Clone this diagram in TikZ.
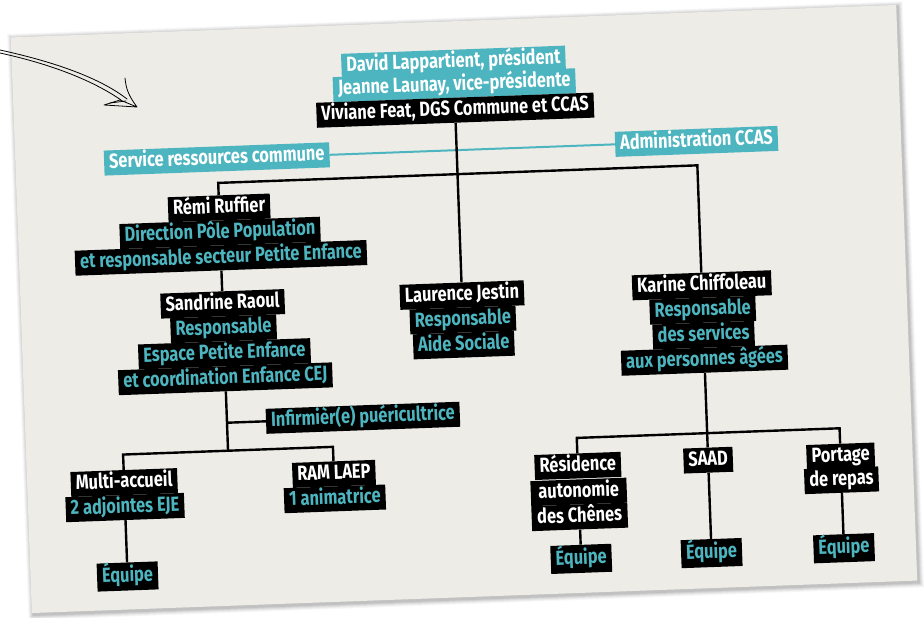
\documentclass[tikz,border=0pt]{standalone}
\usepackage{fontspec}
\setmainfont{Fira Sans}[FakeStretch=0.80]
\usetikzlibrary{calc}
\definecolor{cteal}{HTML}{4DB5BF}
\definecolor{cardbg}{HTML}{EDECE7}
\pgfdeclarelayer{bg}
\pgfdeclarelayer{lines}
\pgfsetlayers{bg,lines,main}
\tikzset{
  bx/.style={fill=black, text=white, font=\bfseries\fontsize{20.5}{23}\selectfont,
    inner xsep=5pt, inner ysep=0pt, minimum height=25pt,
    text height=14.5pt, text depth=4pt, transform shape},
  bt/.style={bx, text=cteal},
  tb/.style={bx, fill=cteal, text=white},
  eq/.style={bt, minimum height=28pt},
  ln/.style={line width=2.4pt, black},
  tln/.style={line width=2pt, cteal},
  pen/.style={line width=0.8pt, black, line cap=round, line join=round},
}
\begin{document}
\begin{tikzpicture}[x=1pt,y=-1pt]
\useasboundingbox (0,0) rectangle (924,618);
\begin{pgfonlayer}{bg}
  \fill[white] (0,0) rectangle (924,618);
\end{pgfonlayer}
\begin{scope}[rotate around={2.1:(464,309)}]
\begin{pgfonlayer}{bg}
  \foreach \e/\o in {5/0.03,4/0.04,3/0.05,2/0.06,1/0.08}{
    \fill[black, opacity=\o] (21-\e+1.5,21-\e+1.5) rectangle (907+\e+1.5,597+\e+2);
  }
  \fill[cardbg] (21,21) rectangle (907,597);
\end{pgfonlayer}
% top
\node[tb] (david) at (462.5,62) {David Lappartient, président};
\node[tb] (jeanne) at (462.5,85) {Jeanne Launay, vice-présidente};
\node[bx] (viv) at (462.5,110) {Viviane Feat, DGS Commune et CCAS};
\node[tb] (serv) at (222.5,150) {Service ressources commune};
\node[tb] (adm) at (702.5,150) {Administration CCAS};
\coordinate (br1) at (462.5,174);
% left column
\node[bx] (remi) at (223,199) {Rémi Ruffier};
\node[bt] (dir) at (223,224) {Direction Pôle Population};
\node[bt] (etr) at (223,249) {et responsable secteur Petite Enfance};
\node[bx] (sand) at (223,295) {Sandrine Raoul};
\node[bt] (resa) at (223,320) {Responsable};
\node[bt] (esp) at (223,345) {Espace Petite Enfance};
\node[bt] (coord) at (223,370) {et coordination Enfance CEJ};
\node[bt] (inf) at (359,414) {Infirmièr(e) puéricultrice};
\coordinate (br2) at (223,442);
\node[bx] (multi) at (118,470) {Multi-accueil};
\node[bt] (adj) at (118,495) {2 adjointes EJE};
\node[eq] (eqa) at (118,564) {Équipe};
\node[bx] (ram) at (328,469) {RAM LAEP};
\node[bt] (anim) at (328,494) {1 animatrice};
% middle column
\node[bx] (laur) at (462.5,295) {Laurence Jestin};
\node[bt] (resb) at (462.5,320) {Responsable};
\node[bt] (aide) at (462.5,345) {Aide Sociale};
% right column
\node[bx] (kar) at (702.5,294) {Karine Chiffoleau};
\node[bt] (resc) at (702.5,319) {Responsable};
\node[bt] (dserv) at (702.5,344) {des services};
\node[bt] (auxp) at (702.5,369) {aux personnes âgées};
\coordinate (br3) at (702.5,442);
\node[bx] (resi) at (572,470) {Résidence};
\node[bx, minimum width=96pt] (auto) at (572,496) {autonomie};
\node[bx, minimum width=96pt] (chen) at (572,521) {des Chênes};
\node[eq] (eqb) at (572,563) {Équipe};
\node[bx] (saad) at (702.5,469) {SAAD};
\node[eq] (eqc) at (702.5,562) {Équipe};
\node[bx] (port) at (835,470) {Portage};
\node[bx] (rep) at (835,494) {de repas};
\node[eq] (eqd) at (835,562) {Équipe};
% connectors
\begin{pgfonlayer}{lines}
  \draw[tln] (serv.east) -- (adm.west);
  \draw[ln] (viv.south) -- (laur.north);
  \draw[ln] (remi.north) -- (remi.north |- br1) -- (kar.north |- br1) -- (kar.north);
  \draw[ln] (etr.south) -- (sand.north);
  \draw[ln] (coord.south) -- (br2);
  \draw[ln] (coord.south |- inf.west) -- (inf.west);
  \draw[ln] (multi.north) -- (multi.north |- br2) -- (ram.north |- br2) -- (ram.north);
  \draw[ln] (adj.south) -- (eqa.north);
  \draw[ln] (auxp.south) -- (saad.north);
  \draw[ln] (resi.north) -- (resi.north |- br3) -- (port.north |- br3) -- (port.north);
  \draw[ln] (chen.south) -- (eqb.north);
  \draw[ln] (saad.south) -- (eqc.north);
  \draw[ln] (rep.south) -- (eqd.north);
\end{pgfonlayer}
\end{scope}
% hand-drawn arrow
\coordinate (a0) at (0,50);
\coordinate (a1) at (0,53);
\coordinate (tip) at (137,107);
\draw[pen] (a0) .. controls (55,62) and (100,78) .. (127,99);
\draw[pen] (a1) .. controls (55,65) and (95,82) .. (121,100);
\draw[pen] (125,78) .. controls (126,88) and (128,95) .. (tip) -- (104,105) -- (120,100) -- (tip);
\draw[pen] (110,103) -- (126,101);
\end{tikzpicture}
\end{document}
